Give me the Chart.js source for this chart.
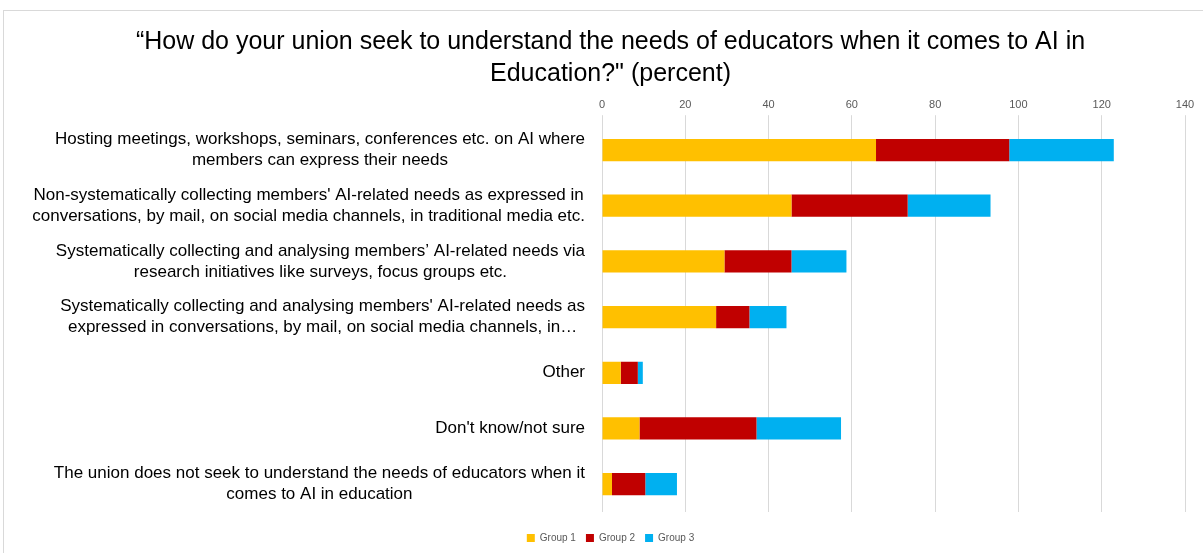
<!DOCTYPE html>
<html lang="en">

<head>
    <meta charset="UTF-8">
    <title>AI in Education</title>
    <style>
        body { margin: 0; background: #fff; }
        .frame {
            position: absolute; left: 3px; top: 10px; width: 1210px; height: 560px;
            border: 1px solid #d9d9d9; box-sizing: border-box;
        }
        .chart-box { position: absolute; left: 0; top: 0; width: 1203px; height: 553px; }
    </style>
</head>

<body>
    <div class="frame"></div>
    <div class="chart-box">
        <canvas id="aiChart"></canvas>
    </div>

    <script src="https://cdn.jsdelivr.net/npm/chart.js"></script>
    <script>
        // categories (wrapped as in the original)
        const categories = [
            ['Hosting meetings, workshops, seminars, conferences etc. on AI where', 'members can express their needs'],
            ["Non-systematically collecting members' AI-related needs as expressed in", 'conversations, by mail, on social media channels, in traditional media etc.'],
            ['Systematically collecting and analysing members’ AI-related needs via', 'research initiatives like surveys, focus groups etc.'],
            ["Systematically collecting and analysing members' AI-related needs as", 'expressed in conversations, by mail, on social media channels, in…'],
            ['Other'],
            ["Don't know/not sure"],
            ['The union does not seek to understand the needs of educators when it', 'comes to AI in education']
        ];

        const group1 = [65.8, 45.5, 29.4, 27.4, 4.5, 9.0, 2.4];
        const group2 = [32.0, 27.9, 16.1, 8.0, 4.1, 28.1, 8.0];
        const group3 = [25.1, 19.9, 13.2, 8.9, 1.2, 20.3, 7.6];

        const xMin = 0;
        const xMax = 140;
        const xStep = 20;

        const FONT = '"Liberation Sans", Arial, sans-serif';

        // draw the category labels: block right aligned, lines centred inside it
        const categoryLabels = {
            id: 'categoryLabels',
            afterDraw(chart) {
                const ctx = chart.ctx;
                const yScale = chart.scales.y;
                const lineH = 21;
                ctx.save();
                ctx.font = '17px ' + FONT;
                ctx.fillStyle = '#000';
                ctx.textAlign = 'center';
                ctx.textBaseline = 'middle';
                categories.forEach((lines, i) => {
                    const blockW = Math.max(...lines.map(l => ctx.measureText(l).width));
                    const cx = chart.chartArea.left - 17 - blockW / 2;
                    const yc = yScale.getPixelForTick(i);
                    const y0 = yc - (lines.length - 1) * lineH / 2;
                    lines.forEach((l, k) => ctx.fillText(l, cx, y0 + k * lineH));
                });
                ctx.restore();
            }
        };

        const config = {
            type: 'bar',
            data: {
                labels: categories.map(c => c.join(' ')),
                datasets: [
                    { label: 'Group 1', data: group1, backgroundColor: '#FFC000' },
                    { label: 'Group 2', data: group2, backgroundColor: '#C00000' },
                    { label: 'Group 3', data: group3, backgroundColor: '#00B0F0' }
                ]
            },
            options: {
                indexAxis: 'y',
                responsive: true,
                maintainAspectRatio: false,
                animation: false,
                layout: { padding: { left: 36, right: 18, top: 0, bottom: 0 } },
                datasets: { bar: { barPercentage: 0.4, categoryPercentage: 1.0 } },
                scales: {
                    x: {
                        stacked: true,
                        position: 'top',
                        min: xMin,
                        max: xMax,
                        ticks: {
                            stepSize: xStep,
                            color: '#595959',
                            font: { size: 11, family: FONT },
                            padding: 4
                        },
                        grid: { color: '#d9d9d9', tickLength: 7, drawTicks: true },
                        border: { display: false }
                    },
                    y: {
                        stacked: true,
                        grid: { display: false },
                        border: { display: false },
                        ticks: { display: false },
                        // room for the category labels
                        afterFit(scale) { scale.width = 566; }
                    }
                },
                plugins: {
                    title: {
                        display: true,
                        text: ['“How do your union seek to understand the needs of educators when it comes to AI in', 'Education?" (percent)'],
                        color: '#000',
                        font: { size: 25, weight: 'normal', family: FONT, lineHeight: 1.28 },
                        padding: { top: 26, bottom: 4 }
                    },
                    legend: {
                        position: 'bottom',
                        title: { display: true, text: '', font: { size: 11, lineHeight: 1 }, padding: 0 },
                        labels: {
                            boxWidth: 8,
                            boxHeight: 8,
                            color: '#595959',
                            font: { size: 10, family: FONT },
                            padding: 10
                        }
                    },
                    tooltip: { enabled: false }
                }
            },
            plugins: [categoryLabels]
        };

        const aiChart = new Chart(document.getElementById('aiChart'), config);
    </script>
</body>

</html>
